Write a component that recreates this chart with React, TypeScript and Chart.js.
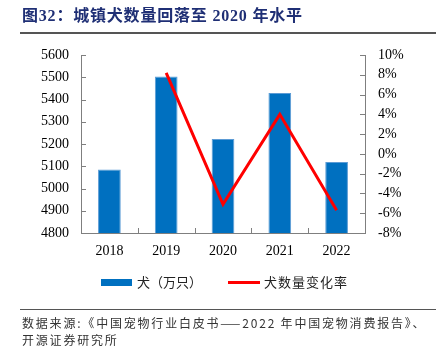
import React, { useEffect, useRef } from "react";
import { Chart, registerables } from "chart.js";

Chart.register(...registerables);

const categories = ["2018", "2019", "2020", "2021", "2022"];
const dogCounts = [5085, 5503, 5222, 5429, 5119];
const changeRates = [null, 8.2, -5.1, 4.0, -5.7];
const leftTicks = { min: 4800, max: 5600, step: 100 };
const rightTicks = { min: -8, max: 10, step: 2 };
const barLabel = "犬（万只）";
const lineLabel = "犬数量变化率";
const titleText = "图32：城镇犬数量回落至 2020 年水平";
const sourceLine1 = "数据来源:《中国宠物行业白皮书——2022 年中国宠物消费报告》、";
const sourceLine2 = "开源证券研究所";

const AXIS_COLOR = "#7f7f7f";
const TICK_FONT = { family: '"Liberation Serif", "Times New Roman", serif', size: 14 };

const innerTicks = {
  id: "innerTicks",
  afterDraw(chart: any) {
    const { ctx, chartArea } = chart;
    const y = chart.scales.y;
    const y1 = chart.scales.y1;
    ctx.save();
    ctx.strokeStyle = AXIS_COLOR;
    ctx.lineWidth = 1;
    ctx.beginPath();
    y.ticks.forEach((t: any) => {
      const py = Math.round(y.getPixelForValue(t.value)) + 0.5;
      ctx.moveTo(chartArea.left, py);
      ctx.lineTo(chartArea.left + 5, py);
    });
    y1.ticks.forEach((t: any) => {
      const py = Math.round(y1.getPixelForValue(t.value)) + 0.5;
      ctx.moveTo(chartArea.right - 5, py);
      ctx.lineTo(chartArea.right, py);
    });
    const n = categories.length;
    const w = (chartArea.right - chartArea.left) / n;
    for (let i = 1; i < n; i++) {
      const px = Math.round(chartArea.left + w * i) + 0.5;
      ctx.moveTo(px, chartArea.bottom);
      ctx.lineTo(px, chartArea.bottom - 5);
    }
    ctx.stroke();
    ctx.restore();
  },
};

function ChartView() {
  const ref = useRef<HTMLCanvasElement | null>(null);
  useEffect(() => {
    if (!ref.current) return;
    const chart = new Chart(ref.current, {
      type: "bar",
      data: {
        labels: categories,
        datasets: [
          {
            type: "line",
            label: lineLabel,
            data: changeRates as any,
            yAxisID: "y1",
            borderColor: "#ff0000",
            backgroundColor: "#ff0000",
            borderWidth: 3,
            pointRadius: 0,
            tension: 0,
            order: 0,
          } as any,
          {
            type: "bar",
            label: barLabel,
            data: dogCounts,
            yAxisID: "y",
            backgroundColor: "#0070c0",
            borderColor: "#5b9bd5",
            borderWidth: 1,
            barPercentage: 0.4,
            categoryPercentage: 1,
            order: 1,
          } as any,
        ],
      },
      options: {
        responsive: false,
        animation: false,
        layout: { padding: { top: 55, left: 0, right: 0, bottom: 0 } },
        plugins: { legend: { display: false }, tooltip: { enabled: false } },
        scales: {
          x: {
            grid: { display: false, drawTicks: false },
            border: { color: AXIS_COLOR, width: 1 },
            ticks: { color: "#000", font: TICK_FONT, padding: 10 },
            afterFit(s: any) {
              s.height = 67;
            },
          },
          y: {
            position: "left",
            min: leftTicks.min,
            max: leftTicks.max,
            grid: { display: false, drawTicks: false },
            border: { color: AXIS_COLOR, width: 1 },
            ticks: {
              stepSize: leftTicks.step,
              autoSkip: false,
              color: "#000",
              font: TICK_FONT,
              padding: 12,
              callback: (v: any) => String(v),
            },
            afterFit(s: any) {
              s.width = 81;
            },
          },
          y1: {
            position: "right",
            min: rightTicks.min,
            max: rightTicks.max,
            grid: { display: false, drawTicks: false },
            border: { color: AXIS_COLOR, width: 1 },
            ticks: {
              stepSize: rightTicks.step,
              autoSkip: false,
              color: "#000",
              font: TICK_FONT,
              padding: 13,
              callback: (v: any) => `${v}%`,
            },
            afterFit(s: any) {
              s.width = 71;
            },
          },
        },
      },
      plugins: [innerTicks],
    });
    return () => chart.destroy();
  }, []);
  return <canvas ref={ref} width={436} height={300} style={{ position: "absolute", left: 0, top: 0 }} />;
}

export default function App() {
  const cjk = '"Noto Sans CJK SC", sans-serif';
  return (
    <div
      style={{
        position: "fixed",
        left: 0,
        top: 0,
        width: 436,
        height: 352,
        background: "#fff",
        overflow: "hidden",
      }}
    >
      <ChartView />
      <div
        style={{
          position: "absolute",
          left: 22,
          top: 5,
          fontFamily: '"Liberation Serif", "Noto Sans CJK SC", serif',
          fontWeight: "bold",
          fontSize: 16,
          letterSpacing: 0.8,
          color: "#1f2f75",
          whiteSpace: "nowrap",
          lineHeight: "22px",
        }}
      >
        {titleText}
      </div>
      <div style={{ position: "absolute", left: 20, top: 32, width: 416, height: 1.5, background: "#555" }} />
      <div
        style={{
          position: "absolute",
          left: 0,
          top: 272,
          width: 436,
          height: 20,
          fontFamily: cjk,
          fontSize: 13,
          color: "#222",
          whiteSpace: "nowrap",
        }}
      >
        <div style={{ position: "absolute", left: 101, top: 7, width: 31, height: 7, background: "#0070c0" }} />
        <div style={{ position: "absolute", left: 137, top: 0, lineHeight: "20px", letterSpacing: 0 }}>{barLabel}</div>
        <div style={{ position: "absolute", left: 228, top: 9, width: 32, height: 3, background: "#ff0000" }} />
        <div style={{ position: "absolute", left: 264, top: 0, lineHeight: "20px", letterSpacing: 1 }}>{lineLabel}</div>
      </div>
      <div style={{ position: "absolute", left: 20, top: 309, width: 416, height: 1, background: "#555" }} />
      <div
        style={{
          position: "absolute",
          left: 22,
          top: 314,
          fontFamily: cjk,
          fontSize: 12,
          color: "#333",
          lineHeight: "17px",
          letterSpacing: 1.8,
          whiteSpace: "nowrap",
        }}
      >
        <div>{sourceLine1}</div>
        <div>{sourceLine2}</div>
      </div>
    </div>
  );
}
